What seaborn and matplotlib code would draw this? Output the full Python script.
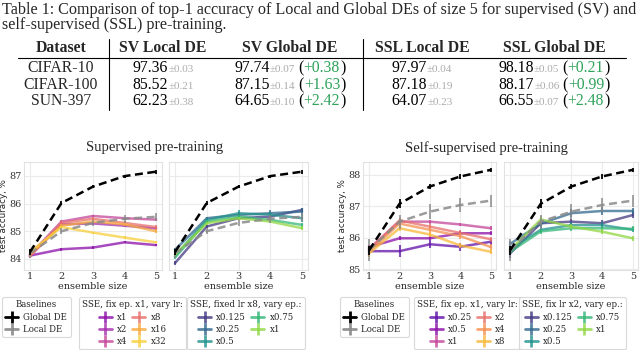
import numpy as np
import pandas as pd
import seaborn as sns
import matplotlib
matplotlib.use("Agg")
import matplotlib.pyplot as plt
from matplotlib.lines import Line2D

# ---------------- data ----------------
sizes = [1, 2, 3, 4, 5]

# table
datasets = ["CIFAR-10", "CIFAR-100", "SUN-397"]
tab_sv_local = [97.36, 85.52, 62.23]
tab_sv_local_std = [0.03, 0.21, 0.38]
tab_sv_global = [97.74, 87.15, 64.65]
tab_sv_global_std = [0.07, 0.14, 0.10]
tab_sv_gain = [0.38, 1.63, 2.42]
tab_ssl_local = [97.97, 87.18, 64.07]
tab_ssl_local_std = [0.04, 0.19, 0.23]
tab_ssl_global = [98.18, 88.17, 66.55]
tab_ssl_global_std = [0.05, 0.06, 0.07]
tab_ssl_gain = [0.21, 0.99, 2.48]

# supervised baselines
sv_global = [84.25, 86.02, 86.61, 86.99, 87.15]
sv_global_err = [0.10, 0.08, 0.06, 0.05, 0.07]
sv_local = [84.20, 85.00, 85.30, 85.45, 85.52]
sv_local_err = [0.15, 0.10, 0.12, 0.15, 0.14]

# supervised, fix ep. x1, vary lr
sv_lr_labels = ["x1", "x2", "x4", "x8", "x16", "x32"]
sv_lr_vals = [
    [84.12, 84.35, 84.41, 84.60, 84.50],
    [84.10, 85.25, 85.28, 85.20, 85.10],
    [84.15, 85.35, 85.55, 85.47, 85.42],
    [84.10, 85.30, 85.45, 85.30, 85.15],
    [84.15, 85.20, 85.35, 85.25, 85.00],
    [84.25, 85.15, 84.95, 84.77, 84.60],
]
sv_lr_err = [
    [0.05, 0.05, 0.04, 0.04, 0.04],
    [0.06, 0.05, 0.05, 0.05, 0.06],
    [0.06, 0.06, 0.05, 0.05, 0.05],
    [0.06, 0.06, 0.06, 0.06, 0.08],
    [0.08, 0.06, 0.05, 0.06, 0.07],
    [0.08, 0.05, 0.04, 0.04, 0.04],
]

# supervised, fixed lr x8, vary ep.
sv_ep_labels = ["x0.125", "x0.25", "x0.5", "x0.75", "x1"]
sv_ep_vals = [
    [83.85, 85.17, 85.47, 85.53, 85.77],
    [84.33, 85.47, 85.59, 85.65, 85.71],
    [84.10, 85.41, 85.65, 85.60, 85.47],
    [84.05, 85.35, 85.53, 85.41, 85.23],
    [84.15, 85.29, 85.47, 85.35, 85.11],
]
sv_ep_err = [
    [0.08, 0.06, 0.06, 0.06, 0.08],
    [0.08, 0.06, 0.12, 0.12, 0.12],
    [0.08, 0.06, 0.12, 0.10, 0.12],
    [0.06, 0.05, 0.06, 0.06, 0.08],
    [0.06, 0.05, 0.06, 0.06, 0.08],
]

# self-supervised baselines
ssl_global = [85.60, 87.08, 87.63, 87.95, 88.16]
ssl_global_err = [0.15, 0.15, 0.08, 0.07, 0.06]
ssl_local = [85.60, 86.51, 86.83, 87.04, 87.18]
ssl_local_err = [0.35, 0.22, 0.25, 0.22, 0.19]

# self-supervised, fix ep. x1, vary lr
ssl_lr_labels = ["x0.25", "x0.5", "x1", "x2", "x4", "x8"]
ssl_lr_vals = [
    [85.57, 85.57, 85.79, 85.71, 85.87],
    [85.70, 85.98, 85.98, 86.14, 86.14],
    [85.65, 86.51, 86.51, 86.42, 86.30],
    [85.62, 86.55, 86.35, 86.15, 85.95],
    [85.55, 86.45, 86.25, 86.05, 85.70],
    [85.50, 86.30, 86.10, 85.75, 85.55],
]
ssl_lr_err = [
    [0.10, 0.20, 0.12, 0.12, 0.10],
    [0.08, 0.06, 0.06, 0.06, 0.06],
    [0.08, 0.06, 0.06, 0.06, 0.06],
    [0.10, 0.08, 0.08, 0.08, 0.08],
    [0.15, 0.10, 0.10, 0.10, 0.10],
    [0.10, 0.08, 0.08, 0.08, 0.08],
]

# self-supervised, fix lr x2, vary ep.
ssl_ep_labels = ["x0.125", "x0.25", "x0.5", "x0.75", "x1"]
ssl_ep_vals = [
    [85.50, 86.46, 86.51, 86.46, 86.72],
    [85.80, 86.45, 86.78, 86.85, 86.85],
    [85.65, 86.25, 86.40, 86.40, 86.25],
    [85.55, 86.20, 86.30, 86.30, 86.28],
    [85.60, 86.58, 86.35, 86.19, 85.98],
]
ssl_ep_err = [
    [0.15, 0.10, 0.10, 0.10, 0.10],
    [0.10, 0.12, 0.12, 0.12, 0.10],
    [0.10, 0.08, 0.10, 0.10, 0.08],
    [0.10, 0.08, 0.08, 0.08, 0.08],
    [0.10, 0.10, 0.08, 0.08, 0.08],
]

# ---------------- style ----------------
sns.set_theme(style="whitegrid")
plt.rcParams.update({
    "font.family": ["DejaVu Serif"],
    "axes.edgecolor": "#e2e2e2",
    "axes.linewidth": 0.8,
    "grid.color": "#ebebeb",
    "grid.linewidth": 0.8,
    "xtick.labelsize": 7,
    "ytick.labelsize": 7,
    "xtick.color": "#333333",
    "ytick.color": "#333333",
    "xtick.major.pad": 1.5,
    "ytick.major.pad": 1.5,
})

sv_lr_colors = ["#8b0fa8", "#a52fae", "#c4479a", "#e8716c", "#f8a93a", "#f8cf3c"]
ssl_lr_colors = ["#6010a8", "#8b0fa8", "#c4479a", "#e8716c", "#f49050", "#f8b83a"]
ep_colors = sns.color_palette("viridis", 5)

W, H = 640, 350
fig = plt.figure(figsize=(W / 100, H / 100), dpi=100)


def px_axes(x0, x1, y0, y1):
    return fig.add_axes([x0 / W, 1 - y1 / H, (x1 - x0) / W, (y1 - y0) / H])


def draw_series(ax, vals, errs, color, ls="-", lw=1.8, alpha=0.75, z=2, elw=1.5):
    sns.lineplot(x=sizes, y=vals, color=color, linewidth=lw, linestyle=ls,
                 alpha=alpha, ax=ax, zorder=z)
    ax.errorbar(sizes, vals, yerr=errs, fmt="none", ecolor=color,
                elinewidth=elw, alpha=alpha, capsize=0, zorder=z)


def draw_panel(ax, glob, glob_err, loc, loc_err, vals, errs, colors):
    for v, e, c in zip(vals, errs, colors):
        draw_series(ax, v, e, c)
    draw_series(ax, loc, loc_err, "#8a8a8a", ls=(0, (3.2, 1.8)), alpha=0.85, z=3, elw=1.3)
    draw_series(ax, glob, glob_err, "black", ls=(0, (3.2, 1.8)), alpha=1.0, z=4, elw=1.3)
    ax.set_xticks(sizes)
    ax.tick_params(length=0)
    ax.set_xlabel("ensemble size", fontsize=7, labelpad=1)


sv_ylim = (83.6, 87.5)
ssl_ylim = (84.97, 88.41)

ax1 = px_axes(24, 162, 162, 270)
ax2 = px_axes(169, 308, 162, 270)
ax3 = px_axes(363, 496, 162, 270)
ax4 = px_axes(504, 638, 162, 270)

draw_panel(ax1, sv_global, sv_global_err, sv_local, sv_local_err, sv_lr_vals, sv_lr_err, sv_lr_colors)
draw_panel(ax2, sv_global, sv_global_err, sv_local, sv_local_err, sv_ep_vals, sv_ep_err, ep_colors)
draw_panel(ax3, ssl_global, ssl_global_err, ssl_local, ssl_local_err, ssl_lr_vals, ssl_lr_err, ssl_lr_colors)
draw_panel(ax4, ssl_global, ssl_global_err, ssl_local, ssl_local_err, ssl_ep_vals, ssl_ep_err, ep_colors)

for ax in (ax1, ax2):
    ax.set_ylim(*sv_ylim)
    ax.set_yticks([84, 85, 86, 87])
    ax.set_xlim(0.81, 5.19)
for ax in (ax3, ax4):
    ax.set_ylim(*ssl_ylim)
    ax.set_yticks([85, 86, 87, 88])
    ax.set_xlim(0.8, 5.17)
for ax in (ax2, ax4):
    ax.set_yticklabels([])
for ax in (ax1, ax3):
    ax.set_ylabel("test accuracy, %", fontsize=6.3, family="DejaVu Sans", labelpad=1)

fig.text(155 / W, 1 - 148 / H, "Supervised pre-training", ha="center", va="center",
         fontsize=10.5, family="Liberation Serif")
fig.text(486 / W, 1 - 148 / H, "Self-supervised pre-training", ha="center", va="center",
         fontsize=10.5, family="Liberation Serif")

# ---------------- legends ----------------
def handle(c, alpha=0.8):
    return Line2D([], [], color=c, lw=2, alpha=alpha, marker="|", markersize=8, mew=2)


leg_kw = dict(loc="upper left", fontsize=6.2, title_fontsize=6.2, frameon=True,
              borderaxespad=0, handlelength=1.5, handletextpad=0.6,
              labelspacing=0.38, borderpad=0.38, columnspacing=0.6,
              edgecolor="#d0d0d0", fancybox=True)


def add_legend(x, handles, labels, title, ncol=1):
    lg = fig.legend(handles, labels, title=title, ncol=ncol,
                    bbox_to_anchor=(x / W, 1 - 297 / H), **leg_kw)
    lg.get_frame().set_linewidth(0.8)
    return lg


base_h = [handle("black", 1.0), handle("#8a8a8a", 0.9)]
base_l = ["Global DE", "Local DE"]
add_legend(2, base_h, base_l, "Baselines")
add_legend(79, [handle(c) for c in sv_lr_colors], sv_lr_labels, "SSE, fix ep. x1, vary lr:", 2)
add_legend(187, [handle(c) for c in ep_colors], sv_ep_labels, "SSE, fixed lr x8, vary ep.:", 2)
add_legend(340, base_h, base_l, "Baselines")
add_legend(414, [handle(c) for c in ssl_lr_colors], ssl_lr_labels, "SSE, fix ep. x1, vary lr:", 2)
add_legend(519, [handle(c) for c in ep_colors], ssl_ep_labels, "SSE, fix lr x2, vary ep.:", 2)

# ---------------- table ----------------
SERIF = "Liberation Serif"
FS = 11.3
FS_CAP = 11.6
FS_SMALL = 8
GREEN = "#2ea35a"
GREY = "#ababab"

fig.text(2 / W, 1 - 13.5 / H,
         "Table 1: Comparison of top-1 accuracy of Local and Global DEs of size 5 for supervised (SV) and",
         fontsize=FS_CAP, family=SERIF, va="baseline", ha="left")
fig.text(2 / W, 1 - 29 / H, "self-supervised (SSL) pre-training.",
         fontsize=FS_CAP, family=SERIF, va="baseline", ha="left")

col_x = [61, 163, 290, 422, 554]
headers = ["Dataset", "SV Local DE", "SV Global DE", "SSL Local DE", "SSL Global DE"]
for cx, h in zip(col_x, headers):
    fig.text(cx / W, 1 - 52.5 / H, h, fontsize=FS, family=SERIF, weight="bold",
             ha="center", va="baseline")

fig.add_artist(Line2D([18 / W, 626 / W], [1 - 58 / H, 1 - 58 / H],
                      transform=fig.transFigure, color="black", lw=0.8))
for vx in (109, 363):
    fig.add_artist(Line2D([vx / W, vx / W], [1 - 39 / H, 1 - 110 / H],
                          transform=fig.transFigure, color="black", lw=0.8))

renderer = fig.canvas.get_renderer()


def composite(cx, y, pieces):
    texts = []
    for s, c, fs, gap in pieces:
        t = fig.text(0, 1 - y / H, s, color=c, fontsize=fs, family=SERIF,
                     ha="left", va="baseline")
        texts.append((t, gap))
    widths = [t.get_window_extent(renderer).width for t, _ in texts]
    total = sum(widths) + sum(g for _, g in texts)
    x = cx - total / 2
    for (t, gap), w in zip(texts, widths):
        x += gap
        t.set_x(x / W)
        x += w


row_y = [72.5, 89, 105.5]
for i, ds in enumerate(datasets):
    y = row_y[i]
    fig.text(col_x[0] / W, 1 - y / H, ds, fontsize=FS, family=SERIF, ha="center", va="baseline")
    composite(col_x[1], y, [(f"{tab_sv_local[i]:.2f}", "black", FS, 0),
                            (f"±{tab_sv_local_std[i]:.2f}", GREY, FS_SMALL, 0)])
    composite(col_x[2], y, [(f"{tab_sv_global[i]:.2f}", "black", FS, 0),
                            (f"±{tab_sv_global_std[i]:.2f}", GREY, FS_SMALL, 0),
                            ("(", "black", FS, 3),
                            (f"+{tab_sv_gain[i]:.2f}", GREEN, FS, 0),
                            (")", "black", FS, 0)])
    composite(col_x[3], y, [(f"{tab_ssl_local[i]:.2f}", "black", FS, 0),
                            (f"±{tab_ssl_local_std[i]:.2f}", GREY, FS_SMALL, 0)])
    composite(col_x[4], y, [(f"{tab_ssl_global[i]:.2f}", "black", FS, 0),
                            (f"±{tab_ssl_global_std[i]:.2f}", GREY, FS_SMALL, 0),
                            ("(", "black", FS, 3),
                            (f"+{tab_ssl_gain[i]:.2f}", GREEN, FS, 0),
                            (")", "black", FS, 0)])

fig.savefig("out.png", dpi=100)
